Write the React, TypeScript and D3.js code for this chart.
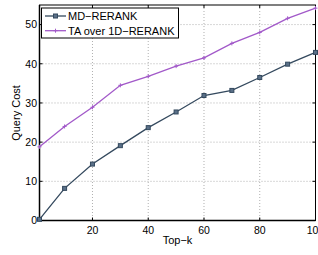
import * as d3 from "d3";
import { useEffect, useRef } from "react";

const topK = [1, 10, 20, 30, 40, 50, 60, 70, 80, 90, 100];
const mdRerank = [0.3, 8.2, 14.4, 19.1, 23.7, 27.7, 31.9, 33.2, 36.5, 39.9, 42.9];
const taOver1d = [18.8, 24.0, 28.9, 34.5, 36.8, 39.4, 41.5, 45.2, 48.0, 51.6, 54.2];
const xTicks = [20, 40, 60, 80, 100];
const yTicks = [0, 10, 20, 30, 40, 50];
const seriesNames = ["MD\u2212RERANK", "TA over 1D\u2212RERANK"];

export default function App() {
  const ref = useRef<SVGSVGElement>(null);

  useEffect(() => {
    const svg = d3.select(ref.current);
    svg.selectAll("*").remove();

    const left = 39.5, right = 315.5, top = 5, bottom = 220.5;
    const x = d3.scaleLinear().domain([1, 100]).range([left, right]);
    const y = d3.scaleLinear().domain([0, 55]).range([bottom, top]);
    const font = "Liberation Sans, Arial, sans-serif";

    // grid
    const grid = svg.append("g").attr("stroke", "#b0b0b0").attr("stroke-width", 1)
      .attr("stroke-dasharray", "1,2");
    xTicks.filter((t) => t < 100).forEach((t) => {
      grid.append("line").attr("x1", x(t)).attr("x2", x(t)).attr("y1", top).attr("y2", bottom);
    });
    yTicks.filter((t) => t > 0).forEach((t) => {
      grid.append("line").attr("x1", left).attr("x2", right).attr("y1", y(t)).attr("y2", y(t));
    });

    // axes (box with inward ticks)
    const axisG = svg.append("g").attr("stroke", "#000").attr("stroke-width", 1);
    axisG.append("rect").attr("x", left).attr("y", top).attr("width", right - left)
      .attr("height", bottom - top).attr("fill", "none");
    xTicks.forEach((t) => {
      axisG.append("line").attr("x1", x(t)).attr("x2", x(t)).attr("y1", bottom).attr("y2", bottom - 3);
      axisG.append("line").attr("x1", x(t)).attr("x2", x(t)).attr("y1", top).attr("y2", top + 3);
    });
    yTicks.forEach((t) => {
      axisG.append("line").attr("x1", left).attr("x2", left + 3).attr("y1", y(t)).attr("y2", y(t));
      axisG.append("line").attr("x1", right).attr("x2", right - 3).attr("y1", y(t)).attr("y2", y(t));
    });
    axisG.append("line").attr("x1", left).attr("x2", right).attr("y1", bottom).attr("y2", bottom).attr("stroke-width", 1.5);
    axisG.append("line").attr("x1", left).attr("x2", left).attr("y1", top).attr("y2", bottom).attr("stroke-width", 1.5);

    xTicks.forEach((t) => {
      svg.append("text").attr("x", x(t)).attr("y", bottom + 13).attr("text-anchor", "middle")
        .attr("font-family", font).attr("font-size", 10.5).attr("fill", "#000").text(t);
    });
    yTicks.forEach((t) => {
      svg.append("text").attr("x", 37).attr("y", y(t) + 3.8).attr("text-anchor", "end")
        .attr("font-family", font).attr("font-size", 10.5).attr("fill", "#000").text(t);
    });
    svg.append("text").attr("x", (left + right) / 2).attr("y", 243.5).attr("text-anchor", "middle")
      .attr("font-family", font).attr("font-size", 11).text("Top\u2212k");
    svg.append("text").attr("transform", `translate(20,113) rotate(-90)`)
      .attr("text-anchor", "middle").attr("font-family", font).attr("font-size", 11).text("Query Cost");

    const line = d3.line<number>().x((_, i) => x(topK[i])).y((d) => y(d));
    const colors = ["#34495e", "#a259c9"];

    // series 1: squares
    svg.append("path").datum(mdRerank).attr("d", line).attr("fill", "none")
      .attr("stroke", colors[0]).attr("stroke-width", 1.3);
    svg.append("g").selectAll("rect").data(mdRerank).join("rect")
      .attr("x", (_, i) => x(topK[i]) - 2).attr("y", (d) => y(d) - 2)
      .attr("width", 4).attr("height", 4).attr("fill", "#5a7088").attr("stroke", colors[0]).attr("stroke-width", 1);

    // series 2: plus markers
    svg.append("path").datum(taOver1d).attr("d", line).attr("fill", "none")
      .attr("stroke", colors[1]).attr("stroke-width", 1.3);
    const plus = svg.append("g").attr("stroke", colors[1]).attr("stroke-width", 1);
    taOver1d.forEach((d, i) => {
      const cx = x(topK[i]), cy = y(d);
      plus.append("line").attr("x1", cx - 2).attr("x2", cx + 2).attr("y1", cy).attr("y2", cy);
      plus.append("line").attr("x1", cx).attr("x2", cx).attr("y1", cy - 2).attr("y2", cy + 2);
    });

    // legend
    const lg = svg.append("g");
    lg.append("rect").attr("x", 41.5).attr("y", 8).attr("width", 137).attr("height", 30)
      .attr("fill", "#fff").attr("stroke", "#000").attr("stroke-width", 1);
    seriesNames.forEach((name, i) => {
      const ly = 16 + i * 14.7;
      lg.append("line").attr("x1", 45).attr("x2", 66).attr("y1", ly).attr("y2", ly)
        .attr("stroke", colors[i]).attr("stroke-width", 1.3);
      if (i === 0) {
        lg.append("rect").attr("x", 53.5).attr("y", ly - 2).attr("width", 4).attr("height", 4)
          .attr("fill", "#5a7088").attr("stroke", colors[0]);
      } else {
        lg.append("line").attr("x1", 53.5).attr("x2", 57.5).attr("y1", ly).attr("y2", ly).attr("stroke", colors[1]);
        lg.append("line").attr("x1", 55.5).attr("x2", 55.5).attr("y1", ly - 2).attr("y2", ly + 2).attr("stroke", colors[1]);
      }
      lg.append("text").attr("x", 68).attr("y", ly + 4).attr("font-family", font)
        .attr("font-size", 11).attr("fill", "#000").text(name);
    });
  }, []);

  return (
    <svg ref={ref} width={318} height={255}
      style={{ position: "absolute", left: 0, top: 0, background: "#fff" }} />
  );
}
